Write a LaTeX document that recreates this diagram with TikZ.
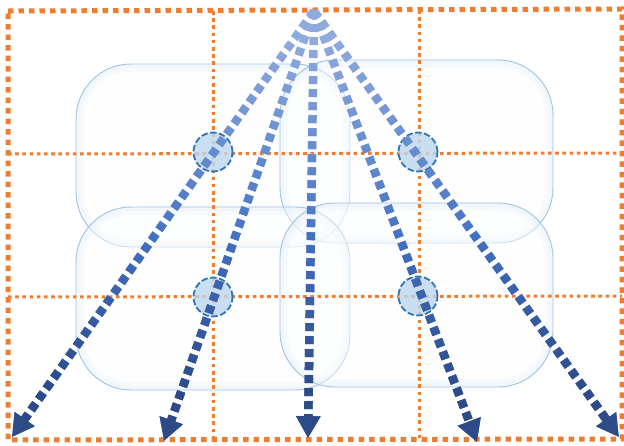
\documentclass[tikz,border=0pt]{standalone}
\usetikzlibrary{arrows.meta,fadings}
\definecolor{gridor}{HTML}{ED7D31}
\definecolor{arrlight}{HTML}{8FAADC}
\definecolor{arrmid}{HTML}{4472C4}
\definecolor{arrdark}{HTML}{2E4B88}
\definecolor{boxedge}{HTML}{9DC3E6}
\definecolor{boxglow}{HTML}{BDD7EE}
\definecolor{circfill}{HTML}{BDD7EE}
\definecolor{circedge}{HTML}{2E75B6}
\pgfdeclareverticalshading{midsh}{100bp}{color(0bp)=(white); color(48bp)=(white); color(71bp)=(black); color(100bp)=(black)}
\pgfdeclarefading{fademid}{\pgfuseshading{midsh}}
\pgfdeclareverticalshading{darksh}{100bp}{color(0bp)=(white); color(31bp)=(white); color(50bp)=(black); color(100bp)=(black)}
\pgfdeclarefading{fadedark}{\pgfuseshading{darksh}}
\pgfdeclareradialshading{glowsh}{\pgfpoint{0bp}{0bp}}{color(0bp)=(black); color(27bp)=(black); color(50bp)=(white)}
\pgfdeclarefading{glowfade}{\pgfuseshading{glowsh}}
\tikzset{
  gridouter/.style={gridor, line width=5pt, dash pattern=on 5.5pt off 5pt},
  gridinner/.style={gridor, line width=3pt, dash pattern=on 3.6pt off 3.6pt},
  arrline/.style={line width=8.5pt, dash pattern=on 8pt off 5pt, -{Triangle[length=22pt,width=23pt]}},
  circ/.style={circle, minimum size=39pt, inner sep=0pt, fill=circfill, fill opacity=0.8, draw=circedge, draw opacity=1, line width=1.8pt, dash pattern=on 6.5pt off 2.5pt},
  boxround/.style={rounded corners=55pt},
  glowcorner/.style={fill=boxglow, fill opacity=0.75, path fading=glowfade, fit fading=true},
}
\begin{document}
\begin{tikzpicture}[x=1pt,y=-1pt]
\useasboundingbox (0,0) rectangle (624,446);
% rounded boxes with inner glow
\foreach \xa/\ya/\xb/\yb in {76/64/350/247, 280/60/553/243, 76/207/350/390, 280/203/553/387}{
  \begin{scope}
    \clip[boxround] (\xa,\ya) rectangle (\xb,\yb);
    \fill[white!96!boxglow, fill opacity=0.45] (\xa,\ya) rectangle (\xb,\yb);
    \draw[boxglow, line width=16pt, opacity=0.09, boxround] (\xa,\ya) rectangle (\xb,\yb);
    \draw[boxglow, line width=8pt, opacity=0.10, boxround] (\xa,\ya) rectangle (\xb,\yb);
    \foreach \cx/\cy/\kx/\ky in {\xa+55/\ya+55/\xa/\ya, \xb-55/\ya+55/\xb/\ya, \xb-55/\yb-55/\xb/\yb, \xa+55/\yb-55/\xa/\yb}{
      \begin{scope}
        \clip (\cx,\cy) rectangle (\kx,\ky);
        \fill[glowcorner] (\cx,\cy) circle[radius=55pt];
      \end{scope}
    }
  \end{scope}
  \draw[boxedge, line width=0.9pt, boxround] (\xa,\ya) rectangle (\xb,\yb);
}
% grid
\coordinate (b1) at (8,11);
\coordinate (b2) at (622,9);
\coordinate (b3) at (622,439);
\coordinate (b4) at (8,440);
\coordinate (v1t) at (213,11);
\coordinate (v1b) at (213,440);
\coordinate (v2t) at (419,10);
\coordinate (v2b) at (419,439);
\coordinate (h1l) at (8,154);
\coordinate (h1r) at (622,153);
\coordinate (h2l) at (8,297);
\coordinate (h2r) at (622,296);
\draw[gridinner] (v1t) -- (v1b);
\draw[gridinner] (v2t) -- (v2b);
\draw[gridinner] (h1l) -- (h1r);
\draw[gridinner] (h2l) -- (h2r);
\draw[gridouter] (b1) -- (b2) -- (b3) -- (b4) -- cycle;
% circles
\node[circ] (c1) at (213,152) {};
\node[circ] (c2) at (418,152) {};
\node[circ] (c3) at (213,297) {};
\node[circ] (c4) at (418,296) {};
% arrows
\coordinate (apex) at (314,11);
\coordinate (t1) at (12,437);
\coordinate (t2) at (164,441);
\coordinate (t3) at (308,438);
\coordinate (t4) at (477,442);
\coordinate (t5) at (619,437);
\foreach \t in {t1,t2,t3,t4,t5}{
  \draw[arrline, arrlight] (apex) -- (\t);
  \draw[arrline, arrmid, path fading=fademid] (apex) -- (\t);
  \draw[arrline, arrdark, path fading=fadedark] (apex) -- (\t);
}
\end{tikzpicture}
\end{document}
